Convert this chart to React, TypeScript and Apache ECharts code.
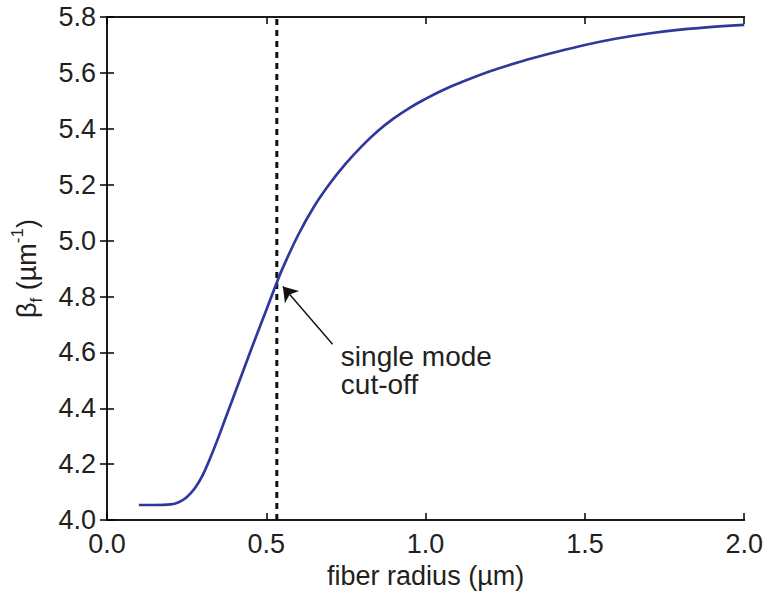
import React, { useEffect, useRef } from "react";
import * as echarts from "echarts";

// fiber radius (µm)
const radius = [0.1, 0.15, 0.2, 0.225, 0.25, 0.275, 0.3, 0.325, 0.35, 0.375, 0.4, 0.45, 0.5, 0.533, 0.55, 0.6, 0.65, 0.7, 0.75, 0.8, 0.85, 0.9, 0.95, 1.0, 1.05, 1.1, 1.2, 1.3, 1.4, 1.5, 1.6, 1.7, 1.8, 1.9, 2.0];
// beta_f (µm^-1)
const beta = [4.054, 4.054, 4.056, 4.064, 4.082, 4.113, 4.16, 4.225, 4.297, 4.374, 4.45, 4.603, 4.752, 4.85, 4.898, 5.02, 5.122, 5.205, 5.276, 5.338, 5.392, 5.437, 5.475, 5.507, 5.536, 5.561, 5.605, 5.641, 5.672, 5.7, 5.723, 5.741, 5.755, 5.765, 5.772];

const cutoffX = [0.533, 0.533];
const cutoffY = [4.0, 5.8];

const arrowFrom = [0.708, 4.629];
const arrowTo = [0.552, 4.836];
const noteAnchor = [0.734, 4.635];
const noteLines = ["single mode", "cut-off"];

const FONT = "'Liberation Sans', Arial, Helvetica, sans-serif";
const TXT = "#231f20";

export default function App() {
  const ref = useRef<HTMLDivElement>(null);
  useEffect(() => {
    document.body.style.margin = "0";
    const chart = echarts.init(ref.current!, null, { renderer: "svg" });
    const tick = { show: true, inside: true, length: 7, lineStyle: { color: "#000", width: 1.5 } };
    const axisLine = { show: true, lineStyle: { color: "#1a1a1a", width: 2 } };
    chart.setOption({
      animation: false,
      backgroundColor: "#fff",
      grid: { left: 107, right: 21, top: 17, bottom: 73 },
      xAxis: [
        {
          type: "value", min: 0, max: 2, interval: 0.5,
          axisLine, axisTick: tick, splitLine: { show: false },
          axisLabel: { color: TXT, fontSize: 27, fontFamily: FONT, margin: 10, formatter: (v: number) => v.toFixed(1) },
          name: "fiber radius (µm)", nameLocation: "middle", nameGap: 38,
          nameTextStyle: { color: TXT, fontSize: 27, fontFamily: FONT },
        },
        {
          type: "value", min: 0, max: 2, interval: 0.5, position: "top",
          axisLine, axisTick: tick, axisLabel: { show: false }, splitLine: { show: false },
        },
      ],
      yAxis: [
        {
          type: "value", min: 4.0, max: 5.8, interval: 0.2,
          axisLine, axisTick: tick, splitLine: { show: false },
          axisLabel: { color: TXT, fontSize: 27, fontFamily: FONT, margin: 11, formatter: (v: number) => v.toFixed(1) },
          name: "{b|β}{s|f}{b| (µm}{p|-1}{b|)}", nameLocation: "middle", nameGap: 62,
          nameTextStyle: {
            color: TXT, fontFamily: FONT, fontSize: 27, lineHeight: 36,
            rich: {
              b: { fontSize: 27, fontFamily: FONT, color: TXT, lineHeight: 36 },
              s: { fontSize: 17, fontFamily: FONT, color: TXT, verticalAlign: "bottom", lineHeight: 28 },
              p: { fontSize: 17, fontFamily: FONT, color: TXT, verticalAlign: "top", lineHeight: 28 },
            },
          },
        },
        {
          type: "value", min: 4.0, max: 5.8, interval: 0.2, position: "right",
          axisLine, axisTick: tick, axisLabel: { show: false }, splitLine: { show: false },
        },
      ],
      series: [
        {
          type: "line",
          data: cutoffX.map((x, i) => [x, cutoffY[i]]),
          showSymbol: false, silent: true,
          lineStyle: { color: "#111", width: 3, type: [6, 5] },
          markLine: {
            silent: true, animation: false,
            label: { show: false },
            lineStyle: { color: "#111", width: 1.4, type: "solid" },
            data: [[
              { coord: arrowFrom, symbol: "none" },
              { coord: arrowTo, symbol: "arrow", symbolSize: 14 },
            ]],
          },
        },
        {
          type: "line",
          data: radius.map((x, i) => [x, beta[i]]),
          smooth: 0.4, showSymbol: false, silent: true,
          lineStyle: { color: "#2e3a9b", width: 2.7 },
        },
      ],
    });
    const p = chart.convertToPixel({ gridIndex: 0 }, noteAnchor) as number[];
    chart.setOption({
      graphic: [
        {
          type: "text", x: p[0], y: p[1],
          style: {
            text: noteLines.join("\n"), fill: TXT, fontSize: 28, fontFamily: FONT,
            lineHeight: 28, textAlign: "left", textVerticalAlign: "top",
          },
        },
      ],
    });
    return () => chart.dispose();
  }, []);
  return <div ref={ref} style={{ width: 766, height: 594 }} />;
}
